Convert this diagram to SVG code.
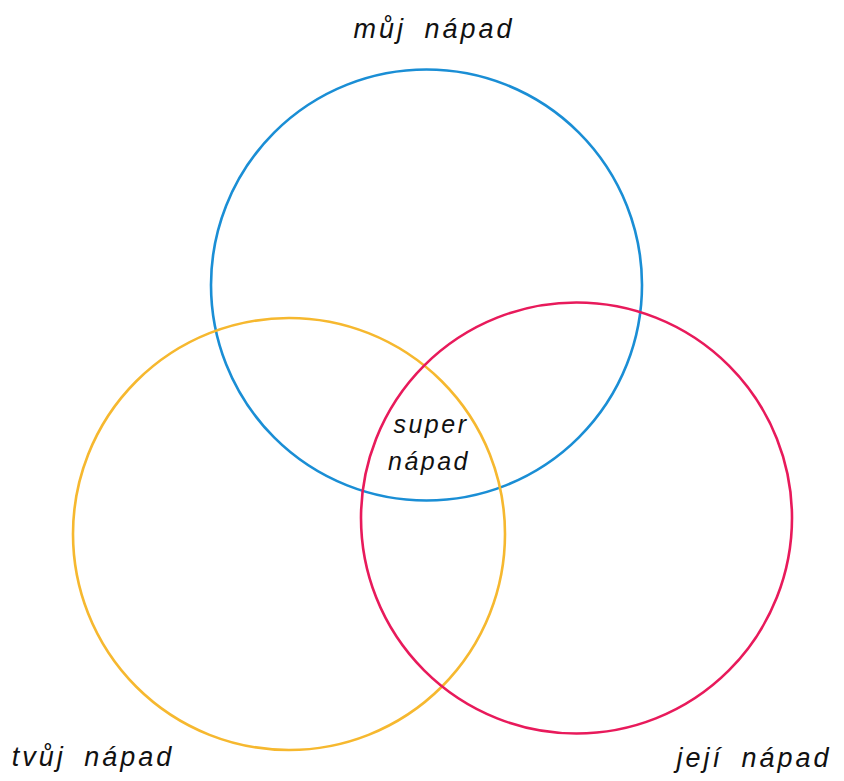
<svg xmlns="http://www.w3.org/2000/svg" width="844" height="781" viewBox="0 0 844 781">
<style>
.c{fill:none;stroke-width:2.6}
.t{font-family:"Liberation Sans","DejaVu Sans",sans-serif;font-style:italic;font-size:27px;fill:#111;text-anchor:middle;letter-spacing:3px;word-spacing:8px}
.s{font-size:25px;letter-spacing:2.5px}
</style>
<rect width="844" height="781" fill="#fff"/>
<g id="connectors"></g>
<g id="blue"><circle class="c" cx="426.5" cy="285" r="215.5" stroke="#1a8ed5"/></g>
<g id="orange"><circle class="c" cx="289" cy="534" r="216" stroke="#f6b82f"/></g>
<g id="red"><circle class="c" cx="576.5" cy="518" r="215.5" stroke="#e81a5b"/></g>
<g id="label-muj"><text class="t" x="434" y="38">můj nápad</text></g>
<g id="label-tvuj"><text class="t" x="93" y="766">tvůj nápad</text></g>
<g id="label-jeji"><text class="t" x="754" y="767">její nápad</text></g>
<g id="label-super"><text class="t s" x="431" y="433">super</text><text class="t s" x="429" y="470">nápad</text></g>
</svg>
